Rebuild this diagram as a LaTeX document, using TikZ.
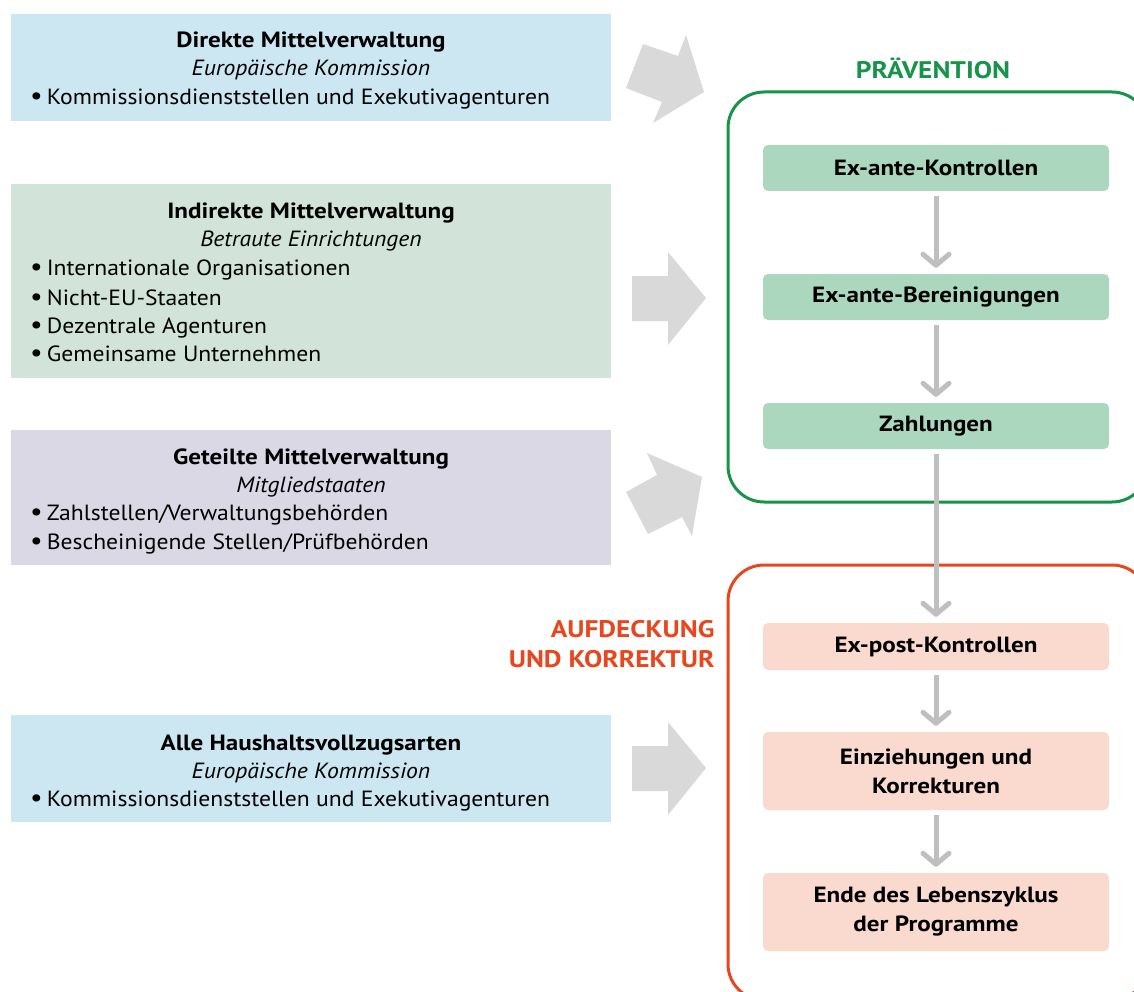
\documentclass[tikz,border=0pt]{standalone}
\usepackage{fontspec}
\setmainfont{PT Sans}[FakeStretch=1.075]
\newfontfamily\bfam{PT Sans Bold}[FakeStretch=1.14]
\usetikzlibrary{arrows.meta}
\definecolor{bluebox}{HTML}{CCE7F2}
\definecolor{greybox}{HTML}{D2E3D9}
\definecolor{lavbox}{HTML}{DBD8E5}
\definecolor{bigarrow}{HTML}{D9D9D9}
\definecolor{frgreen}{HTML}{17934A}
\definecolor{ingreen}{HTML}{ACD7BF}
\definecolor{frred}{HTML}{E8461E}
\definecolor{inred}{HTML}{FAD9CE}
\definecolor{smarrow}{HTML}{BFBFBF}
\newcommand{\bul}{{\fontsize{26}{26}\selectfont•}\hspace{4pt}}
\begin{document}
\begin{tikzpicture}[x=1pt,y=-1pt,
  lbox/.style={rectangle, anchor=north west, inner sep=0pt, minimum width=600pt},
  ttl/.style={font=\fontsize{22}{26}\bfam, anchor=base},
  sub/.style={font=\fontsize{22}{26}\selectfont\itshape, anchor=base},
  itm/.style={font=\fontsize{22}{26}\selectfont, anchor=base west, inner sep=0pt},
  ibox/.style={rectangle, rounded corners=5pt, minimum width=346pt, inner sep=0pt, align=center, font=\fontsize{22}{29}\bfam},
  frame/.style={line width=3pt, rounded corners=36pt},
  sarrow/.style={draw=smarrow, line width=5pt, -{Straight Barb[length=11pt,width=26pt,round]}},
  big/.style={fill=bigarrow}
]
\useasboundingbox (0,0) rectangle (1134,992);
\clip (0,0) rectangle (1134,992);

% left boxes
\node[lbox, fill=bluebox, minimum height=107pt] (b1) at (11,14) {};
\node[lbox, fill=greybox, minimum height=194pt] (b2) at (11,184) {};
\node[lbox, fill=lavbox, minimum height=135pt] (b3) at (11,430) {};
\node[lbox, fill=bluebox, minimum height=107pt] (b4) at (11,715) {};

\node[ttl] (t1) at (311,48) {Direkte Mittelverwaltung};
\node[sub] (s1) at (311,76) {Europäische Kommission};
\node[itm] (i11) at (30,105) {\bul Kommissionsdienststellen und Exekutivagenturen};

\node[ttl] (t2) at (311,219) {Indirekte Mittelverwaltung};
\node[sub] (s2) at (311,247) {Betraute Einrichtungen};
\node[itm] (i21) at (30,276) {\bul Internationale Organisationen};
\node[itm] (i22) at (30,305) {\bul Nicht-EU-Staaten};
\node[itm] (i23) at (30,333) {\bul Dezentrale Agenturen};
\node[itm] (i24) at (30,361) {\bul Gemeinsame Unternehmen};

\node[ttl] (t3) at (311,464) {Geteilte Mittelverwaltung};
\node[sub] (s3) at (311,492) {Mitgliedstaaten};
\node[itm] (i31) at (30,520) {\bul Zahlstellen/Verwaltungsbehörden};
\node[itm] (i32) at (30,549) {\bul Bescheinigende Stellen/Prüfbehörden};

\node[ttl] (t4) at (311,750) {Alle Haushaltsvollzugsarten};
\node[sub] (s4) at (311,778) {Europäische Kommission};
\node[itm] (i41) at (30,806) {\bul Kommissionsdienststellen und Exekutivagenturen};

% big arrows
\fill[big] (643,44) -- (626,88) -- (662,102) -- (653,123) -- (704,92) -- (686,35) -- (678,56) -- cycle;
\fill[big] (632,276) -- (668,276) -- (668,252) -- (706,298) -- (668,345) -- (668,321) -- (632,321) -- cycle;
\fill[big] (647,453) -- (657,475) -- (626,492) -- (648,534) -- (682,517) -- (692,536) -- (702,477) -- cycle;
\fill[big] (632,746) -- (668,746) -- (668,722) -- (706,768) -- (668,815) -- (668,791) -- (632,791) -- cycle;

% frames
\draw[frame, draw=frgreen] (728,92) rectangle (1148,502);
\draw[frame, draw=frred] (728,565) rectangle (1148,1000);

\node[font=\fontsize{24}{26}\bfam, text=frgreen, anchor=base] (prae) at (933,79) {PRÄVENTION};
\node[font=\fontsize{24}{30}\bfam, text=frred, align=right, anchor=east] (auf) at (718,644) {AUFDECKUNG\\UND KORREKTUR};

% inner boxes
\node[ibox, fill=ingreen, minimum height=46pt] (k1) at (936,168) {Ex-ante-Kontrollen};
\node[ibox, fill=ingreen, minimum height=46pt] (k2) at (936,297) {Ex-ante-Bereinigungen};
\node[ibox, fill=ingreen, minimum height=46pt] (k3) at (936,426) {Zahlungen};
\node[ibox, fill=inred, minimum height=47pt] (p1) at (936,646.5) {Ex-post-Kontrollen};
\node[ibox, fill=inred, minimum height=78pt] (p2) at (936,771) {Einziehungen und\\Korrekturen};
\node[ibox, fill=inred, minimum height=78pt] (p3) at (936,912) {Ende des Lebenszyklus\\der Programme};

% small arrows
\draw[sarrow] ([yshift=-5pt]k1.south) -- ([yshift=6pt]k2.north);
\draw[sarrow] ([yshift=-5pt]k2.south) -- ([yshift=6pt]k3.north);
\draw[sarrow] ([yshift=-5pt]k3.south) -- ([yshift=6pt]p1.north);
\draw[sarrow] ([yshift=-5pt]p1.south) -- ([yshift=6pt]p2.north);
\draw[sarrow] ([yshift=-5pt]p2.south) -- ([yshift=6pt]p3.north);
\end{tikzpicture}
\end{document}
